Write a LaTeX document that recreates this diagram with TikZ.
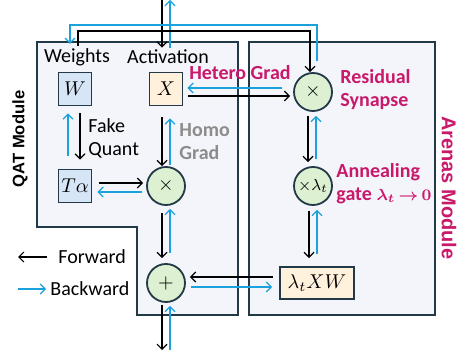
\documentclass[tikz,border=0pt]{standalone}
\usepackage{amsmath}
\usepackage{fontspec}
\setmainfont{Carlito}
\newfontfamily\arialfont{Liberation Sans}
\usetikzlibrary{arrows.meta,calc}

\definecolor{bwdblue}{HTML}{1BA1DB}
\definecolor{hotpink}{HTML}{C8196B}
\definecolor{edgedark}{HTML}{223A48}
\definecolor{modfill}{HTML}{F4F5FB}
\definecolor{wfill}{HTML}{D6E6F7}
\definecolor{xfill}{HTML}{FFF1DB}
\definecolor{opfill}{HTML}{DDF1D2}

\begin{document}
\begin{tikzpicture}[x=0.5pt,y=-0.5pt,
    font=\fontsize{10}{11.5}\selectfont,
    fwd/.style={-{Straight Barb[length=2.5pt,width=5pt]},line width=0.6pt,black},
    bwd/.style={-{Straight Barb[length=2.5pt,width=5pt]},line width=0.6pt,bwdblue},
    module/.style={draw=edgedark,fill=modfill,line width=1pt},
    var/.style={draw=edgedark,line width=0.9pt,minimum size=16.5pt,inner sep=1pt},
    op/.style={circle,draw=edgedark,fill=opfill,line width=0.9pt,minimum size=19pt,inner sep=0pt},
    lab/.style={inner sep=1pt},
    note/.style={inner sep=1pt,align=left,font=\fontsize{10}{11.5}\selectfont\bfseries}]
    \useasboundingbox (0,0) rectangle (460,352);

    % modules
    \draw[module] (37,42) -- (238,42) -- (238,315) -- (137,315) -- (137,227) -- (37,227) -- cycle;
    \draw[module] (249,42) rectangle (435,315);
    \node[rotate=90,font=\arialfont\fontsize{8.3}{10}\selectfont\bfseries] (qat) at (20,139) {QAT Module};
    \node[rotate=-90,font=\arialfont\fontsize{10}{12}\selectfont\bfseries,text=hotpink] (arenas) at (449,188) {Arenas Module};

    % quantities
    \node[lab] (wlab) at (77,57) {Weights};
    \node[lab] (alab) at (168,57) {Activation};
    \node[var,fill=wfill] (W) at (75,89) {$W$};
    \node[var,fill=xfill] (X) at (166,89) {$X$};
    \node[var,fill=wfill] (Ta) at (75,186) {$T\alpha$};
    \node[op] (mul) at (166,186) {$\times$};
    \node[op] (add) at (166,283) {$+$};
    \node[op] (res) at (313,92) {$\times$};
    \node[op,font=\fontsize{8.5}{10}\selectfont] (gate) at (313,186) {$\times\lambda_t$};
    \node[var,fill=xfill,minimum width=37pt,minimum height=16pt] (xw) at (317,283) {$\lambda_t XW$};

    % labels
    \node[note,text=hotpink] (hetero) at (240,73) {Hetero Grad};
    \node[note,text=hotpink,anchor=west] (resnote) at (338,90) {Residual\\Synapse};
    \node[note,text=hotpink,anchor=west] (gatenote) at (334,184) {Annealing\\gate {\fontsize{8}{11}\selectfont$\boldsymbol{\lambda_t\mkern-2mu\rightarrow\mkern-2mu 0}$}};
    \node[note,text=black!45,anchor=west] (homo) at (177,142) {Homo\\Grad};
    \node[lab,align=left,anchor=west] (fq) at (86,138) {Fake\\Quant};

    % input / output
    \coordinate (xin) at (162,0);
    \coordinate (xout) at (170,0);
    \coordinate (yout) at (162,350);
    \coordinate (yin) at (170,350);
    \draw[fwd] (xin) -- ($(alab.north)+(-6,0)$);
    \draw[bwd] ($(alab.north)+(2,0)$) -- (xout);
    \draw[fwd] ($(add.south)+(-4,2)$) -- (yout);
    \draw[bwd] (yin) -- ($(add.south)+(4,3)$);

    % weights to residual synapse
    \draw[fwd] ($(wlab.north)+(1,0)$) |- ($(res.north)+(-3,-41)$) -- ($(res.north)+(-3,0)$);
    \draw[bwd] ($(res.north)+(4,-11)$) |- ($(wlab.north)+(-7,-21)$) -- ($(wlab.north)+(-7,-2)$);

    % QAT path
    \draw[fwd] ($(W.south)+(5,7)$) -- ($(Ta.north)+(5,-9)$);
    \draw[bwd] ($(Ta.north)+(-7,-13)$) -- ($(W.south)+(-7,7)$);
    \draw[fwd] ($(X.south)+(-4,11)$) -- ($(mul.north)+(-4,0)$);
    \draw[bwd] ($(mul.north)+(4,-1)$) -- ($(X.south)+(4,12)$);
    \draw[fwd] ($(Ta.east)+(7,-3)$) -- ($(mul.west)+(-3,-3)$);
    \draw[bwd] ($(mul.west)+(-4,6)$) -- ($(Ta.east)+(5,6)$);
    \draw[fwd] ($(mul.south)+(-4,7)$) -- ($(add.north)+(-4,-5)$);
    \draw[bwd] ($(add.north)+(4,-10)$) -- ($(mul.south)+(4,3)$);

    % Arenas path
    \draw[fwd] ($(X.east)+(5,7)$) -- ($(res.west)+(-3,4)$);
    \draw[bwd] ($(res.west)+(-11,-4)$) -- ($(X.east)+(4,-1)$);
    \draw[fwd] ($(res.south)+(-5,4)$) -- ($(gate.north)+(-5,-4)$);
    \draw[bwd] ($(gate.north)+(3,-7)$) -- ($(res.south)+(3,4)$);
    \draw[fwd] ($(gate.south)+(-4,5)$) -- ($(gate.south |- xw.north)+(-4,-8)$);
    \draw[bwd] ($(gate.south |- xw.north)+(4,-12)$) -- ($(gate.south)+(4,4)$);
    \draw[fwd] ($(xw.west)+(-6,-6)$) -- ($(add.east)+(4,-6)$);
    \draw[bwd] ($(add.east)+(5,4)$) -- ($(xw.west)+(-7,4)$);

    % legend
    \node[lab,anchor=west] (fwdlab) at (56,257) {Forward};
    \node[lab,anchor=west] (bwdlab) at (48,289) {Backward};
    \coordinate (f0) at (18,257);
    \coordinate (b0) at (18,289);
    \draw[fwd] ($(fwdlab.west)+(-9,0)$) -- (f0);
    \draw[bwd] (b0) -- ($(bwdlab.west)+(-2,0)$);
\end{tikzpicture}
\end{document}
